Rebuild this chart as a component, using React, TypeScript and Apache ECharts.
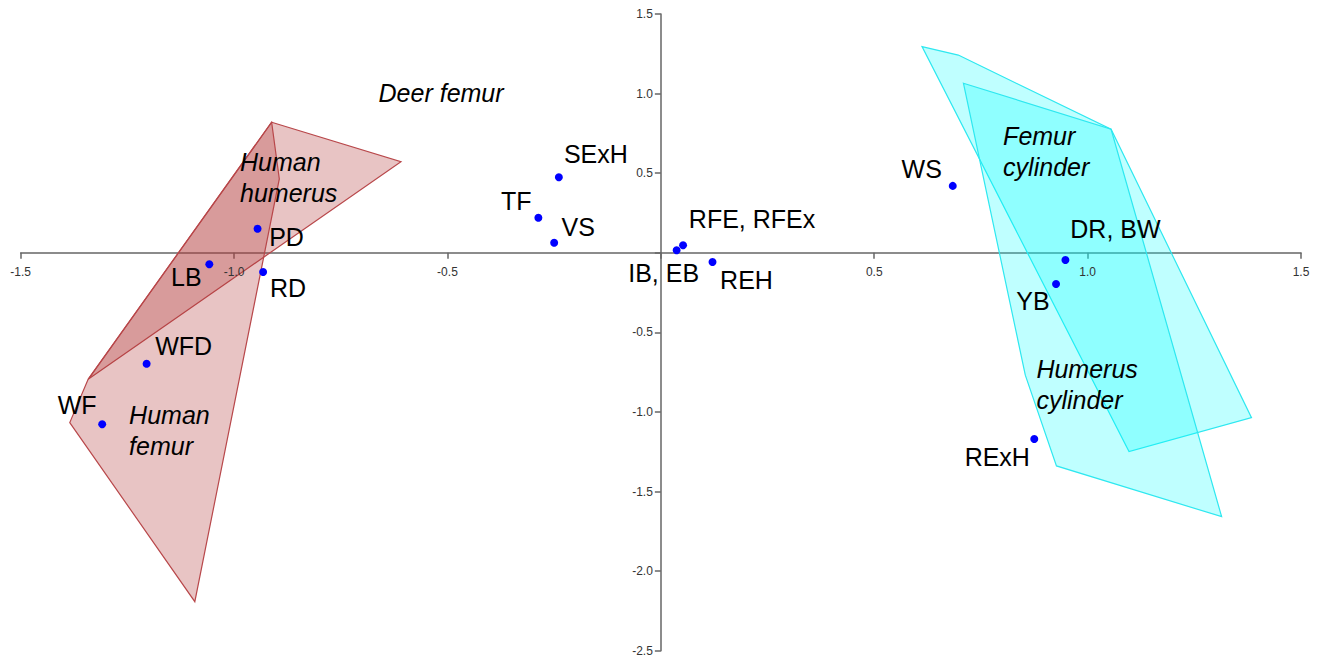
import React, { useEffect, useRef } from "react";
import * as echarts from "echarts";

// Axis tick labels (0 is not labelled in the original)
const xTickValues = [-1.5, -1.0, -0.5, 0.5, 1.0, 1.5];
const xTickLabels = ["-1.5", "-1.0", "-0.5", "0.5", "1.0", "1.5"];
const yTickValues = [1.5, 1.0, 0.5, -0.5, -1.0, -1.5, -2.0, -2.5];
const yTickLabels = ["1.5", "1.0", "0.5", "-0.5", "-1.0", "-1.5", "-2.0", "-2.5"];

// Scatter points (PCA scores)
const pointNames = ["LB", "PD", "RD", "WFD", "WF", "SExH", "TF", "VS", "IB, EB", "RFE, RFEx", "REH", "WS", "DR, BW", "YB", "RExH"];
const pointX = [-1.058, -0.945, -0.932, -1.205, -1.309, -0.239, -0.287, -0.25, 0.037, 0.052, 0.121, 0.684, 0.948, 0.926, 0.875];
const pointY = [-0.072, 0.151, -0.121, -0.697, -1.077, 0.474, 0.22, 0.063, 0.016, 0.047, -0.058, 0.42, -0.045, -0.196, -1.17];
// label offsets in pixels (style)
const labelOffsets = [[-23, 13], [29, 8], [25, 16], [37, -18], [-25, -19], [37, -23], [-22, -17], [24, -16], [-13, 23], [69, -26], [34, 18], [-31, -17], [50, -31], [-23, 17], [-37, 18]];

// Group hulls
const humanHumerus = [[-0.912, 0.82], [-0.609, 0.572], [-1.342, -0.795]];
const humanFemur = [[-0.912, 0.82], [-0.894, 0.464], [-1.092, -2.192], [-1.385, -1.067], [-1.342, -0.795]];
const femurCylinder = [[0.612, 1.295], [0.697, 1.242], [1.055, 0.776], [1.384, -1.036], [1.097, -1.249]];
const humerusCylinder = [[0.709, 1.065], [1.055, 0.776], [1.314, -1.658], [0.927, -1.339], [0.854, -0.769]];

// Group labels
const groupNames = ["Human\nhumerus", "Human\nfemur", "Femur\ncylinder", "Humerus\ncylinder"];
const groupX = [-0.986, -1.246, 0.802, 0.88];
const groupY = [0.665, -0.925, 0.83, -0.636];
const deerLabel = "Deer femur";
const deerPos = [-0.515, 1.004];

const FONT = "'Liberation Sans', Arial, Helvetica, sans-serif";

function polySeries(points: number[][], fill: string, stroke: string) {
  return {
    type: "custom",
    coordinateSystem: "cartesian2d",
    silent: true,
    z: 1,
    data: [points[0]],
    renderItem: (_p: any, api: any) => ({
      type: "polygon",
      shape: { points: points.map((v) => api.coord(v)) },
      style: { fill, stroke, lineWidth: 1.2 },
    }),
  };
}

function textSeries(data: any[], label: any, z = 6) {
  return {
    type: "scatter",
    z,
    symbolSize: 0,
    silent: true,
    itemStyle: { opacity: 1 },
    data,
    label: { show: true, position: "inside", opacity: 1, formatter: (p: any) => p.name, ...label },
  };
}

export default function App() {
  const ref = useRef<HTMLDivElement>(null);
  useEffect(() => {
    if (!ref.current) return;
    const chart = echarts.init(ref.current, undefined, { renderer: "svg" });
    const red = "rgba(180,60,60,0.3)";
    const redStroke = "#b8474a";
    const cyan = "rgba(0,255,255,0.25)";
    const cyanStroke = "#2ee8f0";
    const axisStyle = {
      axisLine: { onZero: true, lineStyle: { color: "#666", width: 1.5 } },
      axisTick: { show: true, length: 6, lineStyle: { color: "#666", width: 1.5 } },
      axisLabel: { show: false },
      splitLine: { show: false },
    };
    const tickFont = { fontSize: 12, color: "#333", fontFamily: FONT };
    chart.setOption({
      animation: false,
      backgroundColor: "#fff",
      grid: { left: 20.7, right: 21, top: 14, bottom: 10.3, containLabel: false, outerBoundsMode: "none" },
      xAxis: { type: "value", min: -1.5, max: 1.5, interval: 0.5, ...axisStyle },
      yAxis: { type: "value", min: -2.5, max: 1.5, interval: 0.5, ...axisStyle },
      series: [
        polySeries(humanHumerus, red, redStroke),
        polySeries(humanFemur, red, redStroke),
        polySeries(femurCylinder, cyan, cyanStroke),
        polySeries(humerusCylinder, cyan, cyanStroke),
        {
          type: "scatter",
          z: 5,
          symbol: "circle",
          symbolSize: 8,
          itemStyle: { color: "#0000ff", opacity: 1 },
          data: pointNames.map((n, i) => ({
            name: n,
            value: [pointX[i], pointY[i]],
            label: { offset: labelOffsets[i] },
          })),
          label: {
            show: true,
            position: "inside",
            opacity: 1,
            formatter: (p: any) => p.name,
            color: "#000",
            fontSize: 25,
            fontFamily: FONT,
          },
        },
        textSeries(
          groupNames.map((n, i) => ({ name: n, value: [groupX[i], groupY[i]] })),
          { align: "left", verticalAlign: "top", color: "#000", fontSize: 25, fontStyle: "italic", lineHeight: 31, fontFamily: FONT }
        ),
        textSeries([{ name: deerLabel, value: deerPos }], {
          align: "center", verticalAlign: "middle", color: "#000", fontSize: 25, fontStyle: "italic", fontFamily: FONT,
        }),
        textSeries(
          xTickValues.map((v, i) => ({ name: xTickLabels[i], value: [v, 0] })),
          { align: "center", verticalAlign: "middle", offset: [0, 19], ...tickFont },
          4
        ),
        textSeries(
          yTickValues.map((v, i) => ({ name: yTickLabels[i], value: [0, v] })),
          { align: "right", verticalAlign: "middle", offset: [-8, 0], ...tickFont },
          4
        ),
      ],
    });
    return () => chart.dispose();
  }, []);
  return (
    <div
      ref={ref}
      style={{ position: "fixed", left: 0, top: 0, width: 1322, height: 661, background: "#fff" }}
    />
  );
}
